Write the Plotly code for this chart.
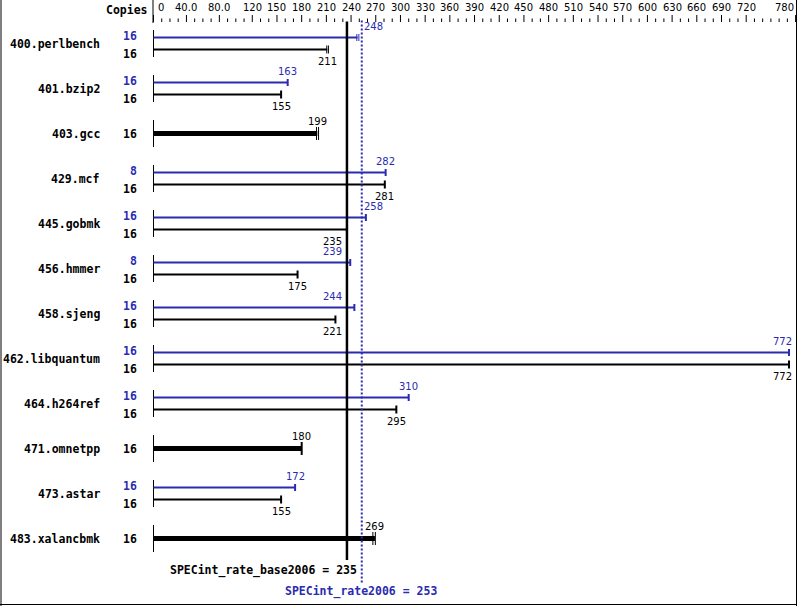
import plotly.graph_objects as go

# ---------------- data ----------------
benchmarks = ["400.perlbench", "401.bzip2", "403.gcc", "429.mcf", "445.gobmk",
              "456.hmmer", "458.sjeng", "462.libquantum", "464.h264ref",
              "471.omnetpp", "473.astar", "483.xalancbmk"]
peak_copies = [16, 16, 16, 8, 16, 8, 16, 16, 16, 16, 16, 16]
base_copies = [16, 16, 16, 16, 16, 16, 16, 16, 16, 16, 16, 16]
peak_ratio = [248, 163, 199, 282, 258, 239, 244, 772, 310, 180, 172, 269]
base_ratio = [211, 155, 199, 281, 235, 175, 221, 772, 295, 180, 155, 269]
# individual run results (ticks at the bar end)
peak_runs = [[247, 249.5], [163], [198, 200.5], [282], [258], [239], [244],
             [772], [310], [180], [172], [266.5, 269.5]]
base_runs = [[210.5, 212.5], [155], [198, 200.5], [281], [235], [175], [221],
             [772], [295], [180], [155], [266.5, 269.5]]
# peak run identical to base run -> single thick bar
single_bar = [False, False, True, False, False, False, False, False, False,
              True, False, True]
base_mean = 235
peak_mean = 253
base_metric = "SPECint_rate_base2006"
peak_metric = "SPECint_rate2006"
tick_label_vals = [0, 40, 80, 120, 150, 180, 210, 240, 270, 300, 330, 360, 390,
                   420, 450, 480, 510, 540, 570, 600, 630, 660, 690, 720, 780]
tick_label_text = ["0", "40.0", "80.0", "120", "150", "180", "210", "240", "270",
                   "300", "330", "360", "390", "420", "450", "480", "510", "540",
                   "570", "600", "630", "660", "690", "720", "780"]
minor_step = 10
axis_max = 780

# ---------------- layout constants ----------------
W, H = 799, 606
X0 = 153.5          # pixel of value 0
SCALE = 0.8232      # pixels per unit
BLUE = "#2b2bb0"
BLACK = "#000000"
MONO = "DejaVu Sans Mono"
SANS = "DejaVu Sans"

r0 = -X0 / SCALE
r1 = r0 + W / SCALE


def px2v(px):
    return (px - X0) / SCALE


def v2px(v):
    return X0 + SCALE * v


fig = go.Figure()


def add_segments(segs, color, width, dash=None):
    xs, ys = [], []
    for (xa, ya, xb, yb) in segs:
        xs += [xa, xb, None]
        ys += [ya, yb, None]
    fig.add_trace(go.Scatter(x=xs, y=ys, mode="lines", hoverinfo="skip",
                             line=dict(color=color, width=width, dash=dash),
                             showlegend=False))


annotations = []


def text(x, y, s, color=BLACK, size=10, family=SANS, bold=False, xanchor="center"):
    annotations.append(dict(x=x, y=y, xref="x", yref="y", text=s, showarrow=False,
                            xanchor=xanchor, yanchor="middle", borderpad=0,
                            font=dict(family=family, size=size, color=color,
                                      weight="bold" if bold else "normal")))


L_base = v2px(base_mean)
L_peak = v2px(peak_mean)


def label_center(v):
    c = v2px(v)
    half, gap = 9.5, 3
    if any(c - half - gap < L < c + half + gap for L in (L_base, L_peak)):
        if v <= (base_mean + peak_mean) / 2:
            c = L_base - 5 - half
        else:
            c = L_peak + 2 + half
    if c + half > 792:
        c = 792 - half
    return px2v(c)


# ---------------- top axis ----------------
major_segs, minor_segs = [], []
for v in range(0, axis_max + 1, minor_step):
    if v in tick_label_vals:
        major_segs.append((v, 15, v, 22))
    else:
        minor_segs.append((v, 18.5, v, 22))
add_segments(major_segs, BLACK, 1)
add_segments(minor_segs, BLACK, 1)
for v, t in zip(tick_label_vals, tick_label_text):
    if v == tick_label_vals[0]:
        text(px2v(v2px(v) + 3), 7, t, xanchor="left")
    elif v == tick_label_vals[-1]:
        text(px2v(v2px(v) - 1), 7, t, xanchor="right")
    else:
        text(v, 7, t)
text(px2v(149), 10, "Copies", family=MONO, size=11.5, bold=True, xanchor="right")
add_segments([(px2v(153), 0, px2v(153), 23)], BLACK, 1)

# ---------------- bars ----------------
thin_blue, thin_black, thick_black = [], [], []
cap_blue1, cap_blue2, cap_black1, cap_black2 = [], [], [], []
group_lines = []
for i, name in enumerate(benchmarks):
    yc = 43.5 + 45 * i
    group_lines.append((0, yc - 13.5, 0, yc + 13.5))
    text(px2v(101), yc, name, family=MONO, size=11.5, bold=True, xanchor="right")
    if single_bar[i]:
        thick_black.append((0, yc, base_ratio[i], yc))
        runs = base_runs[i]
        target = cap_black2 if len(runs) > 1 else cap_black1
        for r in runs:
            target.append((r, yc - 6.5, r, yc + 6.5))
        text(px2v(138), yc + 0.5, str(base_copies[i]), family=MONO, size=11.5,
             bold=True, xanchor="right")
        text(label_center(base_ratio[i]), yc - 12, str(base_ratio[i]))
    else:
        yp, yb = yc - 6, yc + 6
        thin_blue.append((0, yp, peak_ratio[i], yp))
        thin_black.append((0, yb, base_ratio[i], yb))
        runs = peak_runs[i]
        target = cap_blue2 if len(runs) > 1 else cap_blue1
        for r in runs:
            target.append((r, yp - 3.5, r, yp + 3.5))
        runs = base_runs[i]
        target = cap_black2 if len(runs) > 1 else cap_black1
        for r in runs:
            target.append((r, yb - 4, r, yb + 4))
        text(px2v(138), yc - 8, str(peak_copies[i]), color=BLUE, family=MONO,
             size=11.5, bold=True, xanchor="right")
        text(px2v(138), yc + 10, str(base_copies[i]), family=MONO, size=11.5,
             bold=True, xanchor="right")
        text(label_center(peak_ratio[i]), yc - 17, str(peak_ratio[i]), color=BLUE)
        text(label_center(base_ratio[i]), yc + 17.5, str(base_ratio[i]))

add_segments(group_lines, BLACK, 1)
add_segments(thin_blue, BLUE, 2)
add_segments(thin_black, BLACK, 2)
add_segments(thick_black, BLACK, 5)
add_segments(cap_blue1, BLUE, 2)
add_segments(cap_blue2, BLUE, 1)
add_segments(cap_black1, BLACK, 2)
add_segments(cap_black2, BLACK, 1)

# ---------------- mean lines ----------------
add_segments([(base_mean, 21.5, base_mean, 560)], BLACK, 2.5)
add_segments([(peak_mean, 20.5, peak_mean, 583)], BLUE, 2, dash="2px,2px")
text(px2v(357.5), 570, f"{base_metric} = {base_mean}", family=MONO, size=11.5,
     bold=True, xanchor="right")
text(px2v(360.5), 591.5, f"{peak_metric} = {peak_mean}", color=BLUE, family=MONO,
     size=11.5, bold=True)

# ---------------- frame ----------------
shapes = [
    dict(type="line", xref="paper", yref="paper", x0=1 / W, x1=1 / W, y0=0, y1=1,
         line=dict(color=BLACK, width=1)),
    dict(type="line", xref="paper", yref="paper", x0=796.5 / W, x1=796.5 / W,
         y0=0, y1=1, line=dict(color=BLACK, width=1)),
    dict(type="line", xref="paper", yref="paper", x0=0, x1=797 / W,
         y0=1 - 604.5 / H, y1=1 - 604.5 / H, line=dict(color=BLACK, width=1)),
]

fig.update_layout(
    width=W, height=H, margin=dict(l=0, r=0, t=0, b=0, pad=0),
    paper_bgcolor="white", plot_bgcolor="white",
    xaxis=dict(range=[r0, r1], visible=False, fixedrange=True),
    yaxis=dict(range=[H, 0], visible=False, fixedrange=True),
    showlegend=False, hovermode=False,
    annotations=annotations, shapes=shapes,
)

fig.write_html("out.html", config={"displayModeBar": False},
               post_script="document.body.style.margin='0';")
